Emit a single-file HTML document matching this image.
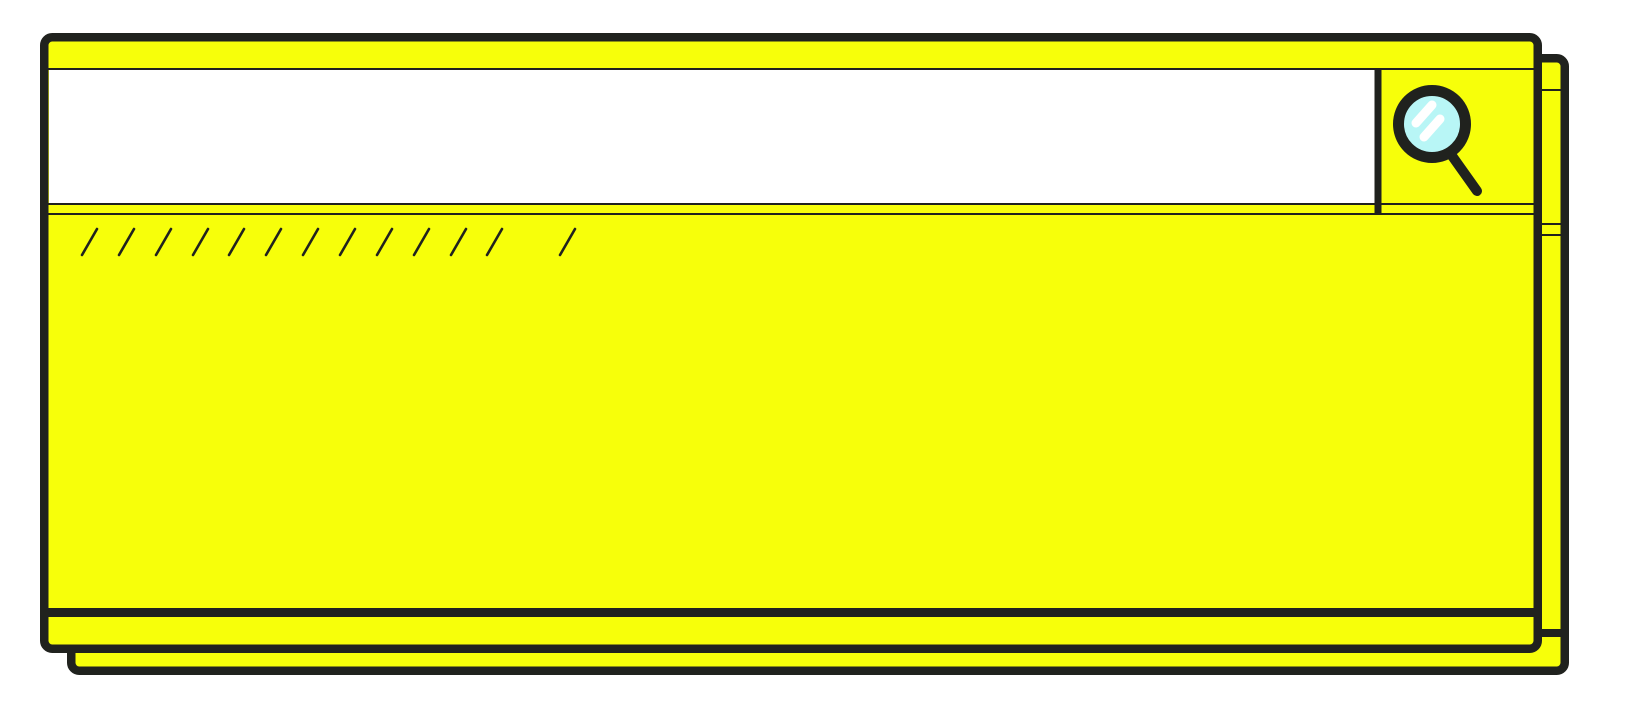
<!DOCTYPE html>
<html><head><meta charset="utf-8"><style>html,body{margin:0;padding:0;background:#fff;width:1631px;height:708px;overflow:hidden}</style></head>
<body>
<svg width="1631" height="708" viewBox="0 0 1631 708" xmlns="http://www.w3.org/2000/svg">
<g stroke="#20221e" fill="#f7ff0a">
<rect x="71.25" y="58.25" width="1493.5" height="612.5" rx="8" stroke-width="8.5"/>
<line x1="1540" y1="90" x2="1562" y2="90" stroke-width="2"/>
<line x1="1540" y1="224" x2="1562" y2="224" stroke-width="2"/>
<line x1="1540" y1="235" x2="1562" y2="235" stroke-width="2"/>
<line x1="1540" y1="633" x2="1562" y2="633" stroke-width="8"/>
<rect x="44.25" y="37.25" width="1493.5" height="611.5" rx="8" stroke-width="8.5"/>
</g>
<rect x="49" y="70" width="1326" height="133" fill="#fff"/>
<g stroke="#20221e">
<line x1="48" y1="69" x2="1534" y2="69" stroke-width="2"/>
<line x1="48" y1="204" x2="1534" y2="204" stroke-width="2"/>
<line x1="48" y1="214" x2="1534" y2="214" stroke-width="2"/>
<line x1="1378" y1="69" x2="1378" y2="214" stroke-width="7"/>
<line x1="48" y1="612.5" x2="1534" y2="612.5" stroke-width="9"/>
<line x1="1450" y1="153" x2="1477" y2="191" stroke-width="10" stroke-linecap="round"/>
<circle cx="1432" cy="124" r="33.5" fill="#b8f6f6" stroke-width="11"/>
</g>
<g stroke="#fff" stroke-width="9" stroke-linecap="round">
<line x1="1416" y1="123" x2="1432" y2="105"/>
<line x1="1424" y1="137" x2="1440" y2="119"/>
</g>
<g stroke="#20221e" stroke-width="2.6" stroke-linecap="round">
<line x1="82" y1="255" x2="97" y2="229"/>
<line x1="119" y1="255" x2="134" y2="229"/>
<line x1="156" y1="255" x2="171" y2="229"/>
<line x1="193" y1="255" x2="208" y2="229"/>
<line x1="229" y1="255" x2="244" y2="229"/>
<line x1="266" y1="255" x2="281" y2="229"/>
<line x1="303" y1="255" x2="318" y2="229"/>
<line x1="340" y1="255" x2="355" y2="229"/>
<line x1="377" y1="255" x2="392" y2="229"/>
<line x1="414" y1="255" x2="429" y2="229"/>
<line x1="451" y1="255" x2="466" y2="229"/>
<line x1="487" y1="255" x2="502" y2="229"/>
<line x1="560" y1="255" x2="575" y2="229"/>
</g>
</svg>
</body></html>
